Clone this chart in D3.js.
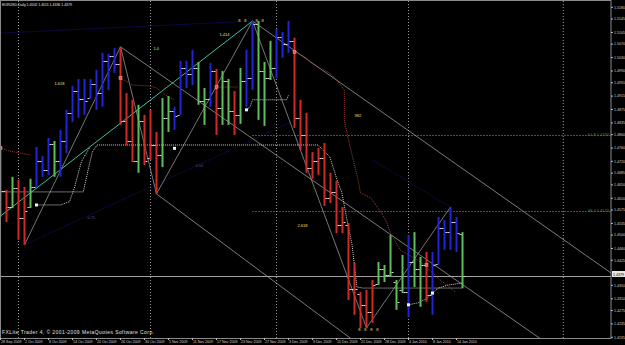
<!DOCTYPE html>
<html>
<head>
<meta charset="utf-8">
<script src="https://cdn.jsdelivr.net/npm/d3@7"></script>
<style>
  body { margin: 0; background: #000; }
  svg { display: block; }
</style>
</head>
<body>
<div id="chart"></div>
<script>
// EURUSD daily bars, 28 Sep 2009 .. 15 Jan 2010
const dates = [
  "2009-09-28","2009-09-29","2009-09-30","2009-10-01","2009-10-02",
  "2009-10-05","2009-10-06","2009-10-07","2009-10-08","2009-10-09",
  "2009-10-12","2009-10-13","2009-10-14","2009-10-15","2009-10-16",
  "2009-10-19","2009-10-20","2009-10-21","2009-10-22","2009-10-23",
  "2009-10-26","2009-10-27","2009-10-28","2009-10-29","2009-10-30",
  "2009-11-02","2009-11-03","2009-11-04","2009-11-05","2009-11-06",
  "2009-11-09","2009-11-10","2009-11-11","2009-11-12","2009-11-13",
  "2009-11-16","2009-11-17","2009-11-18","2009-11-19","2009-11-20",
  "2009-11-23","2009-11-24","2009-11-25","2009-11-26","2009-11-27",
  "2009-11-30","2009-12-01","2009-12-02","2009-12-03","2009-12-04",
  "2009-12-07","2009-12-08","2009-12-09","2009-12-10","2009-12-11",
  "2009-12-14","2009-12-15","2009-12-16","2009-12-17","2009-12-18",
  "2009-12-21","2009-12-22","2009-12-23","2009-12-24","2009-12-28",
  "2009-12-29","2009-12-30","2009-12-31","2010-01-04","2010-01-05",
  "2010-01-06","2010-01-07","2010-01-08","2010-01-11","2010-01-12",
  "2010-01-13","2010-01-14","2010-01-15"
];
// b = blue, r = red, g = green (indicator colouring)
const barColor = [
  "r","r","g","r","r","g","b","b","b","g",
  "b","b","b","b","b","b","b","b","b","b",
  "r","r","r","g","r","r","r","g","g","b",
  "b","b","b","g","g","b","r","g","g","r",
  "g","b","b","g","g","g","b","b","b","r",
  "r","r","r","r","r","r","r","r","r","r",
  "r","r","r","g","g","g","g","g","b","g",
  "g","r","b","b","b","b","b","g"
];
const opens = [
  1.4700,1.4633,1.4585,1.4640,1.4552,1.4585,1.4645,1.4720,1.4695,1.4773,
  1.4720,1.4780,1.4865,1.4930,1.4905,1.4910,1.4950,1.4925,1.5020,1.5035,
  1.5010,1.4840,1.4780,1.4720,1.4840,1.4730,1.4770,1.4740,1.4850,1.4870,
  1.4860,1.5000,1.4980,1.5000,1.4900,1.4905,1.4990,1.4880,1.4960,1.4870,
  1.4860,1.4960,1.4970,1.5130,1.4990,1.4970,1.5000,1.5090,1.5070,1.5080,
  1.4850,1.4800,1.4700,1.4720,1.4730,1.4610,1.4630,1.4530,1.4530,1.4340,
  1.4325,1.4290,1.4270,1.4355,1.4400,1.4380,1.4360,1.4335,1.4330,1.4420,
  1.4400,1.4410,1.4320,1.4415,1.4520,1.4510,1.4540,1.4502
];
const highs = [
  1.4760,1.4635,1.4674,1.4665,1.4644,1.4668,1.4763,1.4736,1.4790,1.4781,
  1.4814,1.4874,1.4945,1.4966,1.4966,1.4966,1.4993,1.5044,1.5041,1.5059,
  1.5062,1.4924,1.4904,1.4889,1.4859,1.4874,1.4808,1.4909,1.4915,1.4883,
  1.5020,1.5020,1.5053,1.5017,1.4939,1.5014,1.4996,1.4990,1.4966,1.4930,
  1.4999,1.5053,1.5139,1.5139,1.5017,1.5080,1.5115,1.5106,1.5139,1.5089,
  1.4904,1.4865,1.4748,1.4760,1.4775,1.4686,1.4662,1.4584,1.4536,1.4417,
  1.4330,1.4336,1.4366,1.4420,1.4411,1.4500,1.4366,1.4441,1.4500,1.4509,
  1.4435,1.4450,1.4450,1.4554,1.4545,1.4584,1.4554,1.4509
];
const lows = [
  1.4554,1.4539,1.4581,1.4486,1.4471,1.4581,1.4644,1.4674,1.4680,1.4674,
  1.4674,1.4745,1.4838,1.4850,1.4859,1.4907,1.4874,1.4883,1.4933,1.4984,
  1.4829,1.4769,1.4718,1.4686,1.4709,1.4724,1.4623,1.4703,1.4808,1.4814,
  1.4859,1.4939,1.4948,1.4889,1.4829,1.4883,1.4799,1.4829,1.4829,1.4799,
  1.4832,1.4883,1.4933,1.4844,1.4826,1.4963,1.4969,1.5029,1.5044,1.4820,
  1.4754,1.4686,1.4668,1.4680,1.4587,1.4596,1.4506,1.4506,1.4306,1.4262,
  1.4223,1.4223,1.4238,1.4351,1.4360,1.4375,1.4277,1.4327,1.4256,1.4345,
  1.4286,1.4301,1.4262,1.4411,1.4456,1.4456,1.4450,1.4342
];
const closes = [
  1.4633,1.4585,1.4640,1.4552,1.4573,1.4645,1.4720,1.4695,1.4773,1.4720,
  1.4780,1.4865,1.4930,1.4905,1.4900,1.4950,1.4925,1.5020,1.5035,1.5010,
  1.4840,1.4780,1.4720,1.4840,1.4720,1.4770,1.4740,1.4850,1.4870,1.4855,
  1.5000,1.4980,1.5000,1.4900,1.4905,1.4990,1.4880,1.4960,1.4870,1.4860,
  1.4960,1.4970,1.5130,1.4990,1.4970,1.5000,1.5090,1.5070,1.5080,1.4850,
  1.4800,1.4700,1.4720,1.4730,1.4610,1.4630,1.4530,1.4540,1.4340,1.4340,
  1.4290,1.4270,1.4350,1.4400,1.4380,1.4390,1.4300,1.4330,1.4420,1.4400,
  1.4410,1.4320,1.4410,1.4520,1.4510,1.4540,1.4505,1.4379
];
const priceTicks = [
  1.5180,1.5145,1.5105,1.5070,1.5030,1.4990,1.4955,1.4915,1.4875,1.4835,
  1.4800,1.4760,1.4720,1.4685,1.4650,1.4610,1.4575,1.4535,1.4500,1.4460,
  1.4425,1.4350,1.4310,1.4275,1.4235,1.4195
];
const dateTicks = [
  "2009-09-28","2009-10-02","2009-10-08","2009-10-14","2009-10-20","2009-10-26",
  "2009-10-30","2009-11-05","2009-11-11","2009-11-17","2009-11-23","2009-11-27",
  "2009-12-03","2009-12-09","2009-12-15","2009-12-21","2009-12-28","2010-01-04",
  "2010-01-08","2010-01-14"
];
const lastPrice = 1.4379;
const titleText = "EURUSD,Daily  1.4502 1.4511 1.4336 1.4379";
const copyrightText = "FXLite Trader 4, \u00a9 2001-2009 MetaQuotes Software Corp.";

// zigzag swing points [bar, price]
const zigzag = [[4,1.4471],[20,1.5062],[26,1.4623],[42,1.5139],[61,1.4223],[75,1.4584]];
// straight trend lines [[bar, price],[bar, price]]
const grayLines = [
  [[20,1.5062],[87,1.4228]],
  [[42,1.5139],[100,1.4409]],
  [[26,1.4623],[57,1.4210]]
];
const tealLine = [[0,1.4557],[42,1.5139]];
const navyLines = [
  [[0,1.5103],[42,1.5139]],
  [[4,1.4471],[50,1.4850]],
  [[62,1.4724],[75,1.4584]]
];
const fibLevels = [
  { label: "61.8  1.4799", value: 1.4799, from: 42 },
  { label: "38.2  1.4573", value: 1.4573, from: 42 }
];
// trailing stop style dotted lines
const whiteStop = [
  [0,1.4629],[13.8,1.4629],[14.6,1.4695],[15.3,1.4748],[16.1,1.4769],[52.9,1.4769],
  [53.75,1.4754],[54.9,1.4733],[56.1,1.4665],[56.9,1.4626],[57.75,1.4545],[58.6,1.4471],
  [59.4,1.4345],[60.4,1.4342],[77,1.4342]
];
const whiteStop2 = [
  [6,1.4590],[10,1.4590],[11.5,1.4600],[12.3,1.4640],[13.5,1.4720],[14.8,1.4760]
];
const whiteStop3 = [[41,1.4874],[41.6,1.4883],[42,1.4904],[47.7,1.4904],[48,1.4918]];
const whiteStop4 = [[68,1.4292],[69.6,1.4298],[71,1.4310],[72,1.4327],[73,1.4342],[74.6,1.4351],[77,1.4357]];
const brownStops = [
  [[0,1.4760],[1.5,1.4751],[3.2,1.4745],[5,1.4739]],
  [[20,1.4969],[22,1.4948],[25,1.4945],[26,1.4939],[28,1.4912],[29,1.4904]],
  [[36,1.4942],[39.5,1.4942]],
  [[49,1.5047],[50.7,1.5032],[51.8,1.5014],[53,1.4999],[54.6,1.4987],[55.6,1.4972],
   [57.3,1.4933],[57.3,1.4844],[58,1.4784],[59.6,1.4665],[60,1.4626],[61.7,1.4611],
   [62.2,1.4599],[63.4,1.4569],[64.2,1.4545],[65,1.4506],[66.6,1.4456],[70,1.4420],
   [73.3,1.4366],[75.8,1.4330]]
];
const redMarks = [[0,1.4760],[20,1.4969],[36,1.4942],[49,1.5047],[71,1.4411]];
const whiteMarks = [[6,1.4590],[29,1.4759],[41,1.4874],[68,1.4292],[72,1.4327]];
const fibText = [
  { t: "1.618", bar: 9, price: 1.4948, c: "#e8e070" },
  { t: "1.0", bar: 25.5, price: 1.5053, c: "#e8e070" },
  { t: "1.414", bar: 36.5, price: 1.5095, c: "#e8e070" },
  { t: "382", bar: 59, price: 1.4854, c: "#e8e070" },
  { t: "2.618", bar: 49.5, price: 1.4524, c: "#e8e070" },
  { t: "0.75", bar: 14.5, price: 1.4548, c: "#4a5a9a" },
  { t: "0.50", bar: 32.5, price: 1.4704, c: "#4a5a9a" }
];
const fractalTop = [39.8, 40.8, 42.7, 43.7];
const fractalBottom = [59.8, 60.8, 61.8, 62.8];

const W = 625, H = 345;
const plot = { left: 0, right: 611, top: 1, bottom: 338 };
const col = { b: "#2323d8", r: "#d42828", g: "#5cbf5c" };

const x = d3.scaleLinear().domain([0, 77]).range([0.5, 462.5]);
const y = d3.scaleLinear().domain([1.5180, 1.4195]).range([7.3, 337.3]);

const svg = d3.select("#chart").append("svg")
  .attr("width", W).attr("height", H)
  .style("background", "#000")
  .style("font-family", "'Liberation Sans', Arial, sans-serif");

svg.append("defs").append("clipPath").attr("id", "clip")
  .append("rect").attr("x", plot.left).attr("y", plot.top)
  .attr("width", plot.right - plot.left).attr("height", plot.bottom - plot.top);

const g = svg.append("g").attr("clip-path", "url(#clip)");

// month separators
const sepIdx = [3, 25, 46, 68, 93.8];
g.selectAll(".sep").data(sepIdx).enter().append("line")
  .attr("x1", d => x(d)).attr("x2", d => x(d))
  .attr("y1", plot.top).attr("y2", plot.bottom)
  .attr("stroke", "#9a9a9a").attr("stroke-width", 1).attr("stroke-dasharray", "1,2");

const lineGen = d3.line().x(d => x(d[0])).y(d => y(d[1]));
function extend(seg, x0, x1) {
  const [a, b] = seg;
  const k = (b[1] - a[1]) / (b[0] - a[0]);
  return [[x0, a[1] + k * (x0 - a[0])], [x1, a[1] + k * (x1 - a[0])]];
}

// faint navy lines
g.selectAll(".navy").data(navyLines).enter().append("path")
  .attr("d", d => lineGen(d))
  .attr("fill", "none").attr("stroke", "#14146a").attr("stroke-width", 1)
  .attr("stroke-dasharray", "1,1");

// fib horizontal levels
g.selectAll(".fib").data(fibLevels).enter().append("line")
  .attr("x1", d => x(d.from)).attr("x2", plot.right)
  .attr("y1", d => Math.round(y(d.value)) + 0.5).attr("y2", d => Math.round(y(d.value)) + 0.5)
  .attr("stroke", "#9a9a9a").attr("stroke-dasharray", "1,2");
g.selectAll(".fibt").data(fibLevels).enter().append("text")
  .attr("x", plot.right - 2).attr("y", d => y(d.value) + 1)
  .attr("text-anchor", "end").attr("font-size", 4).attr("fill", "#3f8f3f")
  .text(d => d.label);

// current price line
g.append("line").attr("x1", plot.left).attr("x2", plot.right)
  .attr("y1", Math.round(y(lastPrice)) + 0.5).attr("y2", Math.round(y(lastPrice)) + 0.5)
  .attr("stroke", "#a0a0a0").attr("stroke-width", 1);

// trend lines
g.selectAll(".gl").data(grayLines).enter().append("path")
  .attr("d", d => lineGen(extend(d, d[0][0], 120)))
  .attr("fill", "none").attr("stroke", "#b0b0b0").attr("stroke-width", 0.7);
g.append("path").attr("d", lineGen(tealLine))
  .attr("fill", "none").attr("stroke", "#3fbf9f").attr("stroke-width", 1);
g.append("path").attr("d", lineGen(zigzag))
  .attr("fill", "none").attr("stroke", "#a8a8a8").attr("stroke-width", 0.7);

// stops
[whiteStop, whiteStop2, whiteStop3, whiteStop4].forEach(s => {
  g.append("path").attr("d", lineGen(s)).attr("fill", "none")
    .attr("stroke", "#d0d0d0").attr("stroke-width", 1).attr("stroke-dasharray", "1,1");
});
g.selectAll(".bs").data(brownStops).enter().append("path")
  .attr("d", d => lineGen(d)).attr("fill", "none")
  .attr("stroke", "#a04030").attr("stroke-width", 1).attr("stroke-dasharray", "1,1");

// bars: high-low line plus open (left) and close (right) ticks
const idx = d3.range(dates.length);
const bars = g.selectAll(".bar").data(idx).enter().append("g");
bars.append("line")
  .attr("x1", i => x(i)).attr("x2", i => x(i))
  .attr("y1", i => y(highs[i])).attr("y2", i => y(lows[i]))
  .attr("stroke", i => col[barColor[i]]).attr("stroke-width", 2);
bars.append("line")
  .attr("x1", i => x(i) - 3).attr("x2", i => x(i) - 1)
  .attr("y1", i => Math.round(y(opens[i])) + 0.5).attr("y2", i => Math.round(y(opens[i])) + 0.5)
  .attr("stroke", "#d8d8d8").attr("stroke-width", 1);
bars.append("line")
  .attr("x1", i => x(i) + 1).attr("x2", i => x(i) + 3)
  .attr("y1", i => Math.round(y(closes[i])) + 0.5).attr("y2", i => Math.round(y(closes[i])) + 0.5)
  .attr("stroke", "#d8d8d8").attr("stroke-width", 1);

// markers
g.selectAll(".rm").data(redMarks).enter().append("rect")
  .attr("x", d => x(d[0]) - 1.5).attr("y", d => y(d[1]) - 1.5).attr("width", 3).attr("height", 3)
  .attr("fill", "#ff5050").attr("stroke", "#ffa0a0").attr("stroke-width", 0.5);
g.selectAll(".wm").data(whiteMarks).enter().append("rect")
  .attr("x", d => x(d[0]) - 1.5).attr("y", d => y(d[1]) - 1.5).attr("width", 3).attr("height", 3)
  .attr("fill", "#e8f4ff");

// fractal marks
g.selectAll(".ft").data(fractalTop).enter().append("text")
  .attr("x", d => x(d)).attr("y", y(highs[42]) + 1).attr("text-anchor", "middle")
  .attr("font-size", 4).attr("fill", "#f0e060").text("8");
g.selectAll(".fb").data(fractalBottom).enter().append("text")
  .attr("x", d => x(d)).attr("y", y(lows[61]) + 3).attr("text-anchor", "middle")
  .attr("font-size", 4).attr("fill", "#f0e060").text("8");

// fib text
g.selectAll(".ftxt").data(fibText).enter().append("text")
  .attr("x", d => x(d.bar)).attr("y", d => y(d.price))
  .attr("font-size", 4).attr("fill", d => d.c).text(d => d.t);

// frame
svg.append("rect").attr("x", 0.5).attr("y", 0.5).attr("width", plot.right - 0.5).attr("height", plot.bottom)
  .attr("fill", "none").attr("stroke", "#8a8a8a").attr("stroke-width", 1);

// price axis
const pa = svg.append("g");
pa.selectAll("line").data(priceTicks).enter().append("line")
  .attr("x1", plot.right).attr("x2", plot.right + 2)
  .attr("y1", d => y(d)).attr("y2", d => y(d)).attr("stroke", "#bbb");
pa.selectAll("text").data(priceTicks).enter().append("text")
  .attr("x", plot.right + 3).attr("y", d => y(d) + 1.3)
  .attr("font-size", 3.6).attr("fill", "#d0d0d0").text(d => d.toFixed(4));
pa.append("rect").attr("x", plot.right + 1).attr("y", 271).attr("width", 13).attr("height", 6)
  .attr("fill", "#e8e8e8");
pa.append("text").attr("x", plot.right + 2).attr("y", 275.5).attr("font-size", 3.6)
  .attr("fill", "#000").text(lastPrice.toFixed(4));

// date axis
const fmt = d3.timeFormat("%-d %b %Y");
const parse = d3.timeParse("%Y-%m-%d");
const da = svg.append("g");
da.selectAll("line").data(dateTicks).enter().append("line")
  .attr("x1", d => x(dates.indexOf(d))).attr("x2", d => x(dates.indexOf(d)))
  .attr("y1", plot.bottom).attr("y2", plot.bottom + 2).attr("stroke", "#bbb");
da.selectAll("text").data(dateTicks).enter().append("text")
  .attr("x", d => x(dates.indexOf(d)) + 0.5).attr("y", 343)
  .attr("font-size", 3.6).attr("fill", "#d0d0d0").text(d => fmt(parse(d)));

// title + copyright
svg.append("text").attr("x", 2).attr("y", 6).attr("font-size", 3.6).attr("fill", "#e0e0e0")
  .attr("textLength", 70).text(titleText);
svg.append("text").attr("x", 2).attr("y", 334).attr("font-size", 5).attr("fill", "#e0e0e0")
  .attr("textLength", 152).text(copyrightText);
</script>
</body>
</html>
